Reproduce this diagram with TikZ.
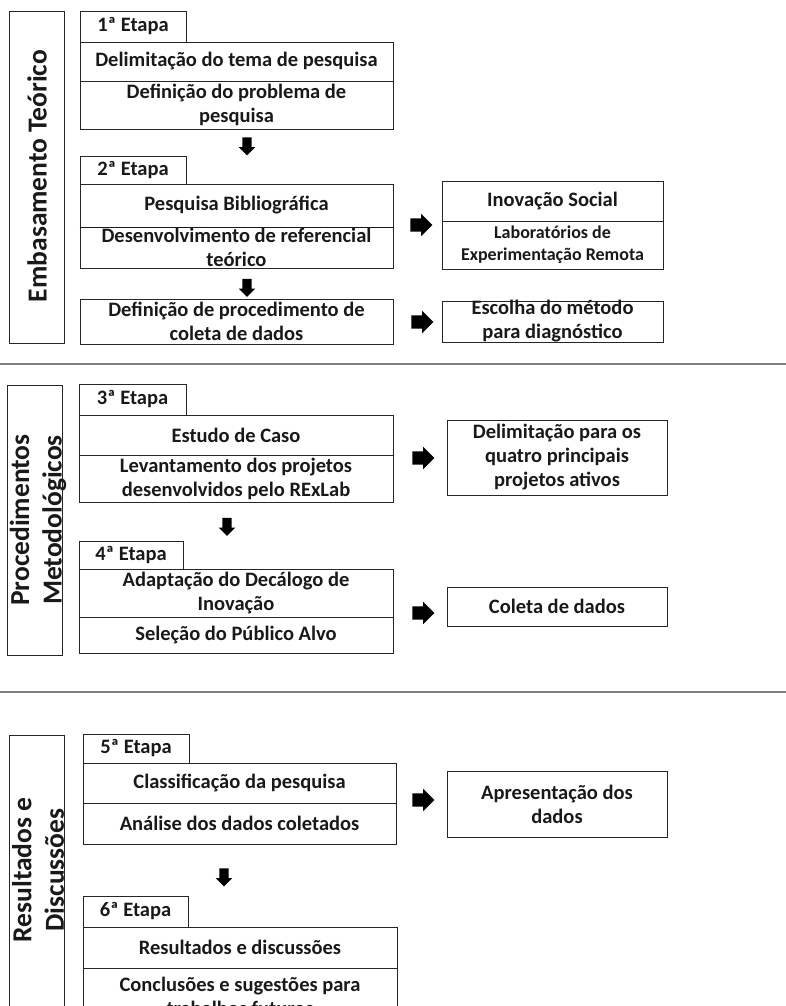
\documentclass[tikz,border=0pt]{standalone}
\usepackage{fontspec}
\setmainfont{Carlito}
\usetikzlibrary{fit,shapes.arrows,calc}

\begin{document}
\begin{tikzpicture}[x=1pt,y=-1pt,
  box/.style={draw=black!85, line width=0.9pt, inner sep=0pt, fit={#1}},
  txt/.style={font=\bfseries\fontsize{20.5}{24}\selectfont, align=center, inner sep=0pt, text=black!90},
  small/.style={font=\bfseries\fontsize{18}{22}\selectfont, align=center, inner sep=0pt, text=black!90},
  side/.style={font=\bfseries\fontsize{27.5}{32.5}\selectfont, align=center, rotate=90, inner sep=0pt, text=black!90},
  rarrow/.style={single arrow, fill=black, draw=none, inner xsep=0pt, inner ysep=6.5pt, minimum height=22pt, single arrow head extend=4.5pt, single arrow head indent=0pt},
  darrow/.style={single arrow, fill=black, draw=none, inner xsep=0pt, inner ysep=4.5pt, minimum height=18pt, single arrow head extend=3.5pt, single arrow head indent=0pt, rotate=-90},
  sepline/.style={draw=black!50, line width=1.6pt}
]
\clip (0,0) rectangle (786,1006);

% ---------- Embasamento Teórico ----------
\node[box={(9,11) (64,343)}] (sideA) {};
\node[side] (tA) at (37,176) {Embasamento Teórico};

\node[box={(80,11) (186,42)}, label={[txt]center:1ª Etapa}] (tab1) {};
\node[box={(80,42) (393,81)}, label={[txt]center:Delimitação do tema de pesquisa}] (r1a) {};
\node[box={(80,81) (393,129)}, label={[txt]center:{Definição do problema de\\pesquisa}}] (r1b) {};
\node[darrow] (d1) at (247,144) {};

\node[box={(80,156) (186,184)}, label={[txt]center:2ª Etapa}] (tab2) {};
\node[box={(80,184) (393,227)}, label={[txt]center:Pesquisa Bibliográfica}] (r2a) {};
\node[box={(80,227) (393,268)}, label={[txt]center:{Desenvolvimento de referencial\\teórico}}] (r2b) {};
\draw[line width=1.6pt, black!90] (r2a.south west) -- (r2a.south east);
\node[darrow] (d2) at (247,285.5) {};
\node[box={(80,299) (393,344)}, label={[txt]center:{Definição de procedimento de\\coleta de dados}}] (r2c) {};

\node[box={(442,181) (663,221)}, label={[txt]center:Inovação Social}] (inov) {};
\node[box={(442,221) (663,269)}, label={[small]center:{Laboratórios de\\Experimentação Remota}}] (lab) {};
\node[rarrow] (a1) at (418,225) {};
\node[box={(442,301) (663,342)}, label={[txt]center:{Escolha do método\\para diagnóstico}}] (esc) {};
\node[rarrow] (a2) at (419,322) {};

\coordinate (s1l) at (0,364);
\coordinate (s1r) at (786,364);
\draw[sepline] (s1l) -- (s1r);

% ---------- Procedimentos Metodológicos ----------
\node[box={(7,385) (62,655)}] (sideB) {};
\node[side] (tB) at (38,520) {Procedimentos\\Metodológicos};

\node[box={(79,384) (186,415)}, label={[txt]center:3ª Etapa}] (tab3) {};
\node[box={(79,415) (393,455)}, label={[txt]center:Estudo de Caso}] (r3a) {};
\node[box={(79,455) (393,502)}, label={[txt]center:{Levantamento dos projetos\\desenvolvidos pelo RExLab}}] (r3b) {};
\node[darrow] (d3) at (227,524.5) {};

\node[box={(79,541) (183,569)}, label={[txt]center:4ª Etapa}] (tab4) {};
\node[box={(79,569) (393,617)}, label={[txt]center:{Adaptação do Decálogo de\\Inovação}}] (r4a) {};
\node[box={(79,617) (393,653)}, label={[txt]center:Seleção do Público Alvo}] (r4b) {};

\node[box={(447,420) (667,495)}, label={[txt]center:{Delimitação para os\\quatro principais\\projetos ativos}}] (delim) {};
\node[rarrow] (a3) at (420,458) {};
\node[box={(447,587) (667,626)}, label={[txt]center:Coleta de dados}] (col) {};
\node[rarrow] (a4) at (420,613) {};

\coordinate (s2l) at (0,692);
\coordinate (s2r) at (786,692);
\draw[sepline] (s2l) -- (s2r);

% ---------- Resultados e Discussões ----------
\node[box={(9,735) (64,1030)}] (sideC) {};
\node[side] (tC) at (38,870) {Resultados e\\Discussões};

\node[box={(83,734) (189,763)}, label={[txt]center:5ª Etapa}] (tab5) {};
\node[box={(83,763) (396,803)}, label={[txt]center:Classificação da pesquisa}] (r5a) {};
\node[box={(83,803) (396,844)}, label={[txt]center:Análise dos dados coletados}] (r5b) {};
\node[darrow] (d5) at (224,875) {};

\node[box={(83,896) (188,927)}, label={[txt]center:6ª Etapa}] (tab6) {};
\node[box={(83,927) (397,968)}, label={[txt]center:Resultados e discussões}] (r6a) {};
\node[box={(83,968) (397,1024)}, label={[txt]center:{Conclusões e sugestões para\\trabalhos futuros}}] (r6b) {};

\node[box={(447,771) (667,837)}, label={[txt]center:{Apresentação dos\\dados}}] (apr) {};
\node[rarrow] (a5) at (420,800) {};
\end{tikzpicture}
\end{document}
